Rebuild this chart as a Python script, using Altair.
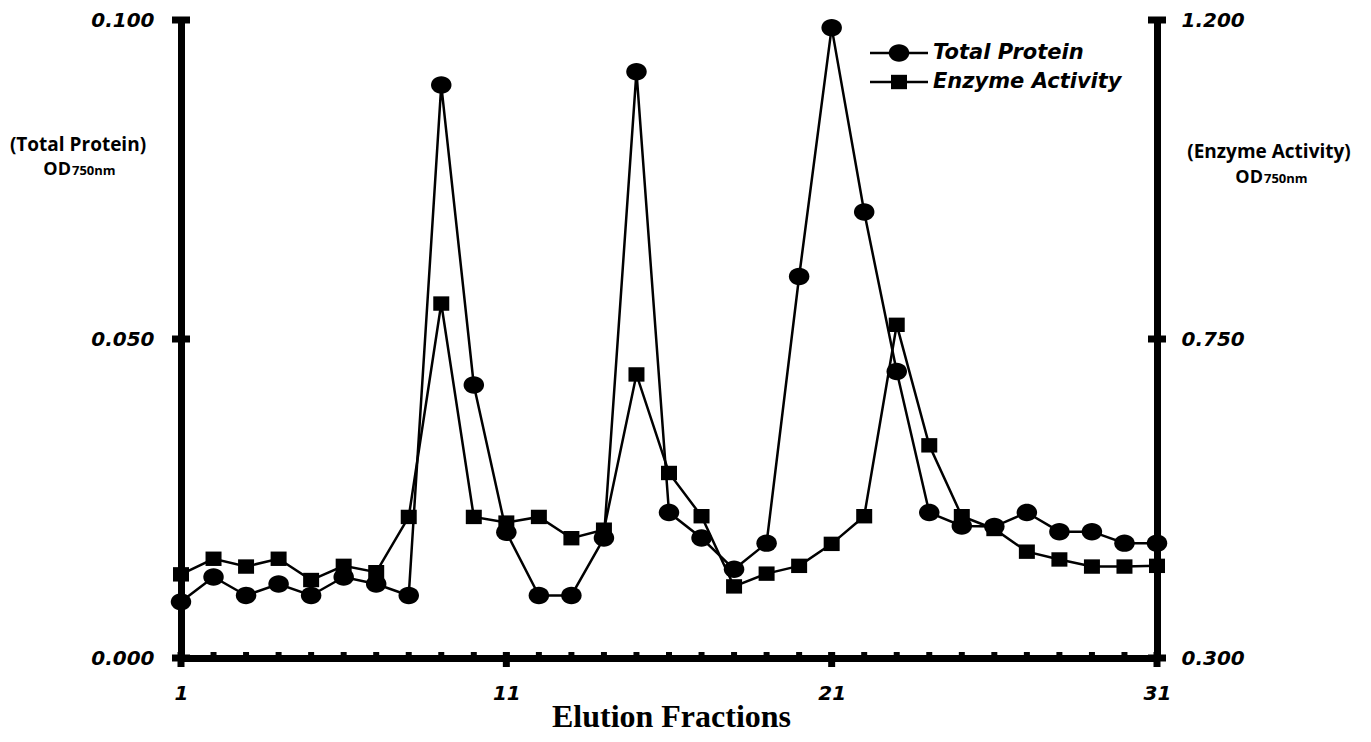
import altair as alt
import pandas as pd

# ---------------- data ----------------
fractions = list(range(1, 32))
total_protein = [0.0088, 0.0127, 0.0098, 0.0116, 0.0098, 0.0127, 0.0116, 0.0098,
                 0.0898, 0.0428, 0.0197, 0.0098, 0.0098, 0.0188, 0.0919, 0.0228,
                 0.0188, 0.0139, 0.0180, 0.0598, 0.0988, 0.0699, 0.0449, 0.0228,
                 0.0207, 0.0206, 0.0228, 0.0198, 0.0198, 0.0180, 0.0180]
enzyme_activity = [0.418, 0.440, 0.429, 0.440, 0.410, 0.430, 0.421, 0.499,
                   0.800, 0.499, 0.491, 0.499, 0.469, 0.481, 0.700, 0.561,
                   0.500, 0.401, 0.419, 0.430, 0.461, 0.500, 0.770, 0.600,
                   0.500, 0.482, 0.450, 0.439, 0.429, 0.429, 0.430]
left_ticks = [0.0, 0.05, 0.1]
right_ticks = [0.3, 0.75, 1.2]
x_label_values = [1, 11, 21, 31]
legend_labels = ["Total Protein", "Enzyme Activity"]
left_title = "(Total Protein)"
right_title = "(Enzyme Activity)"
x_title = "Elution Fractions"

W, H = 976, 638

df = pd.DataFrame({"fraction": fractions, "protein": total_protein,
                   "enzyme": enzyme_activity})

ELLIPSE = "M -1 0 A 1 0.85 0 1 0 1 0 A 1 0.85 0 1 0 -1 0 Z"
RECT = "M -1 -0.9 L 1 -0.9 L 1 0.9 L -1 0.9 Z"

TICK_FONT = "DejaVu Sans"
TITLE_FONT = "Open Sans"

x_scale = alt.Scale(domain=[1, 31], nice=False, zero=False)
yl_scale = alt.Scale(domain=[0, 0.1], nice=False, zero=False)
yr_scale = alt.Scale(domain=[0.3, 1.2], nice=False, zero=False)

common_axis = dict(ticks=False, grid=False, domainWidth=7, domainColor="black",
                   labelFont=TICK_FONT, labelFontStyle="italic", labelFontWeight="bold",
                   labelFontSize=20, labelColor="black", labelFlush=False,
                   labelOverlap=False)

x_axis = alt.Axis(values=x_label_values, format="d", labelPadding=25,
                  title=x_title, titleFont="Liberation Serif", titleFontSize=32,
                  titleFontWeight="bold", titleColor="black", titleX=490, titleY=68,
                  titleBaseline="alphabetic", titleAlign="center", **common_axis)
yl_axis = alt.Axis(orient="left", values=left_ticks, format=".3f", labelPadding=27,
                   title=None, **common_axis)
yr_axis = alt.Axis(orient="right", values=right_ticks, format=".3f", labelPadding=24,
                   title=None, **common_axis)


def xenc(field):
    return alt.X(f"{field}:Q", scale=x_scale, axis=x_axis)


def ylenc(field):
    return alt.Y(f"{field}:Q", scale=yl_scale, axis=yl_axis)


def yrenc(field):
    return alt.Y(f"{field}:Q", scale=yr_scale, axis=yr_axis)


base = alt.Chart(df)

# ---------------- left (protein) layer ----------------
p_line = base.mark_line(color="black", strokeWidth=2.5).encode(
    x=xenc("fraction"), y=ylenc("protein"))
p_pts = base.mark_point(shape=ELLIPSE, size=420, filled=True, color="black",
                        opacity=1).encode(x=xenc("fraction"), y=ylenc("protein"))
lt = alt.Chart(pd.DataFrame({"v": left_ticks})).mark_rule(
    color="black", strokeWidth=7).encode(
    y=ylenc("v"), x=alt.value(-9), x2=alt.value(9))
minor_x = alt.Chart(pd.DataFrame({"fraction": fractions})).mark_rule(
    color="black", strokeWidth=6).encode(
    x=xenc("fraction"), y=alt.value(H - 6), y2=alt.value(H))
major_x = alt.Chart(pd.DataFrame({"fraction": x_label_values})).mark_rule(
    color="black", strokeWidth=7).encode(
    x=xenc("fraction"), y=alt.value(H - 6), y2=alt.value(H + 9))
left_layer = alt.layer(p_line, lt, minor_x, major_x, p_pts)

# ---------------- right (enzyme) layer ----------------
e_line = base.mark_line(color="black", strokeWidth=2.5).encode(
    x=xenc("fraction"), y=yrenc("enzyme"))
e_pts = base.mark_point(shape=RECT, size=256, filled=True, color="black",
                        opacity=1).encode(x=xenc("fraction"), y=yrenc("enzyme"))
rt = alt.Chart(pd.DataFrame({"v": right_ticks})).mark_rule(
    color="black", strokeWidth=7).encode(
    y=yrenc("v"), x=alt.value(W - 9), x2=alt.value(W + 9))
right_layer = alt.layer(e_line, rt, e_pts)

# ---------------- annotations: axis titles and legend ----------------
def text(t, x, y, size, align="center", baseline="middle", font=TITLE_FONT,
         style="normal", weight="bold"):
    return alt.Chart(pd.DataFrame({"t": [t]})).mark_text(
        font=font, fontSize=size, fontWeight=weight, fontStyle=style, color="black",
        align=align, baseline=baseline).encode(
        text="t:N", x=alt.value(x), y=alt.value(y))

annots = [
    text(left_title, -103, 125, 19),
    text("OD", -110, 155, 18, align="right", baseline="alphabetic"),
    text("750nm", -109, 155, 13, align="left", baseline="alphabetic"),
    text(right_title, 1088, 132, 19),
    text("OD", 1082, 163, 18, align="right", baseline="alphabetic"),
    text("750nm", 1083, 163, 13, align="left", baseline="alphabetic"),
]

legend_parts = []
shapes = [(ELLIPSE, 420), (RECT, 256)]
for i, lab in enumerate(legend_labels):
    yy = 33 + 29 * i
    one = alt.Chart(pd.DataFrame({"t": [lab]}))
    legend_parts.append(one.mark_rule(color="black", strokeWidth=2.5).encode(
        x=alt.value(689), x2=alt.value(747), y=alt.value(yy)))
    legend_parts.append(one.mark_point(shape=shapes[i][0], size=shapes[i][1],
                                       filled=True, color="black", opacity=1).encode(
        x=alt.value(718), y=alt.value(yy)))
    legend_parts.append(text(lab, 752, yy, 21, align="left", font=TICK_FONT,
                             style="italic"))

chart = alt.layer(left_layer, right_layer, *annots, *legend_parts).resolve_scale(
    y="independent"
).properties(
    width=W, height=H,
    padding={"left": 173, "top": 12, "right": 206, "bottom": 76},
    autosize=alt.AutoSizeParams(type="none"),
    background="white",
).configure_view(stroke=None)

chart.save("out.html", embed_options={"renderer": "svg", "actions": False})
